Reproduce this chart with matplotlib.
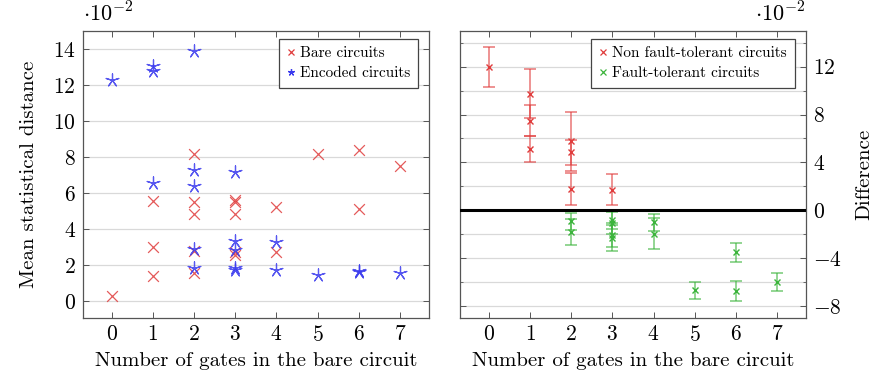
import matplotlib
matplotlib.use("Agg")
import matplotlib.pyplot as plt
from matplotlib.ticker import MultipleLocator
from matplotlib.lines import Line2D

plt.rcParams['font.family'] = 'cmr10'
plt.rcParams['mathtext.fontset'] = 'cm'
plt.rcParams['axes.formatter.use_mathtext'] = True

# left panel: mean statistical distance (x 10^-2)
bare_x = [0, 1, 1, 1, 2, 2, 2, 2, 2, 3, 3, 3, 3, 3, 4, 4, 5, 6, 6, 7]
bare_y = [0.28, 5.57, 3.01, 1.37, 8.15, 5.48, 4.81, 2.78, 1.52,
          5.64, 5.48, 4.86, 2.69, 2.54, 5.24, 2.73, 8.15, 8.41, 5.11, 7.52]
enc_x = [0, 1, 1, 1, 2, 2, 2, 2, 2, 3, 3, 3, 3, 3, 4, 4, 5, 6, 6, 7]
enc_y = [12.29, 13.09, 12.81, 6.54, 13.93, 7.28, 6.39, 2.90, 1.80,
         7.19, 3.34, 2.82, 1.80, 1.71, 3.29, 1.71, 1.43, 1.65, 1.60, 1.52]

# right panel: difference (x 10^-2) with error
nft_x = [0, 1, 1, 1, 2, 2, 2, 3]
nft_y = [12.0, 9.75, 7.5, 5.14, 5.75, 4.83, 1.78, 1.72]
nft_err = [1.67, 2.03, 1.3, 1.08, 2.45, 1.03, 1.33, 1.3]
ft_x = [2, 2, 3, 3, 3, 3, 4, 4, 5, 6, 6, 7]
ft_y = [-0.92, -1.83, -0.78, -1.05, -2.03, -2.3, -1.0, -1.94, -6.69, -3.5, -6.75, -6.0]
ft_err = [0.7, 1.06, 0.8, 0.9, 1.0, 1.1, 0.7, 1.28, 0.73, 0.79, 0.86, 0.77]

red = '#e03c3c'
blue = '#3a3aee'
green = '#3cb43c'
frame = '#555555'
gridc = '#d9d9d9'

fig = plt.figure(figsize=(8.73, 3.75), dpi=100)
ax1 = fig.add_axes([0.0947, 0.152, 0.3967, 0.766])
ax2 = fig.add_axes([0.527, 0.152, 0.396, 0.766])

for ax in (ax1, ax2):
    for s in ax.spines.values():
        s.set_color(frame)
        s.set_linewidth(0.9)
    ax.set_xlim(-0.7, 7.7)
    ax.xaxis.set_major_locator(MultipleLocator(1))
    ax.tick_params(direction='in', top=True, bottom=True, left=True, right=True,
                   length=4, width=0.7, color=frame, labelsize=15.5, pad=5)
    ax.tick_params(which='minor', direction='in', left=True, right=True,
                   length=2.5, width=0.6, color=frame)
    ax.set_xlabel('Number of gates in the bare circuit', fontsize=15, labelpad=5)
    ax.set_axisbelow(True)

ax1.scatter(bare_x, bare_y, marker='x', s=60, color=red, linewidths=0.9, alpha=0.85,
            label='Bare circuits', zorder=3)
ax1.scatter(enc_x, enc_y, marker=(5, 2, 0), s=90, color=blue, linewidths=0.9, alpha=0.85,
            label='Encoded circuits', zorder=3)
ax1.set_ylim(-0.96, 15.04)
ax1.yaxis.set_major_locator(MultipleLocator(2))
ax1.grid(axis='y', color=gridc, linewidth=0.9)
ax1.set_ylabel('Mean statistical distance', fontsize=15, labelpad=11)
ax1.text(0.0, 1.02, r'$\cdot 10^{-2}$', transform=ax1.transAxes, fontsize=16,
         ha='left', va='bottom')

leg_kw = dict(loc='upper right', bbox_to_anchor=(0.968, 0.972), borderaxespad=0,
              fontsize=11, handletextpad=0.3, handlelength=0.6, borderpad=0.5,
              labelspacing=0.4, fancybox=False, framealpha=1)
h1 = [Line2D([], [], ls='none', marker='x', ms=4, mew=0.9, color=red),
      Line2D([], [], ls='none', marker=(5, 2, 0), ms=5, mew=0.9, color=blue)]
leg1 = ax1.legend(h1, ['Bare circuits', 'Encoded circuits'], **leg_kw)
leg1.get_frame().set_edgecolor('#444444')
leg1.get_frame().set_linewidth(0.9)

ax2.errorbar(nft_x, nft_y, yerr=nft_err, fmt='none', ecolor=red, alpha=0.7,
             elinewidth=1.1, capsize=4.5, capthick=1.1, zorder=3)
ax2.plot(nft_x, nft_y, ls='none', marker='x', ms=4.5, mew=1.0, color=red, zorder=3)
ax2.errorbar(ft_x, ft_y, yerr=ft_err, fmt='none', ecolor=green, alpha=0.7,
             elinewidth=1.1, capsize=4.5, capthick=1.1, zorder=3)
ax2.plot(ft_x, ft_y, ls='none', marker='x', ms=4.5, mew=1.0, color=green, zorder=3)
ax2.axhline(0, color='black', linewidth=2.2, zorder=4)
ax2.set_ylim(-9, 15)
ax2.yaxis.set_major_locator(MultipleLocator(4))
ax2.yaxis.set_minor_locator(MultipleLocator(2))
ax2.grid(axis='y', which='both', color=gridc, linewidth=0.9)
ax2.yaxis.tick_right()
ax2.yaxis.set_label_position('right')
ax2.tick_params(axis='y', left=True, right=True, which='both')
ax2.set_ylabel('Difference', fontsize=15, labelpad=10)
ax2.text(1.0, 1.02, r'$\cdot 10^{-2}$', transform=ax2.transAxes, fontsize=16,
         ha='right', va='bottom')
h2 = [Line2D([], [], ls='none', marker='x', ms=4, mew=0.9, color=red),
      Line2D([], [], ls='none', marker='x', ms=4, mew=0.9, color=green)]
leg2 = ax2.legend(h2, ['Non fault-tolerant circuits', 'Fault-tolerant circuits'], **leg_kw)
leg2.get_frame().set_edgecolor('#444444')
leg2.get_frame().set_linewidth(0.9)

fig.savefig('out.png', dpi=100)
